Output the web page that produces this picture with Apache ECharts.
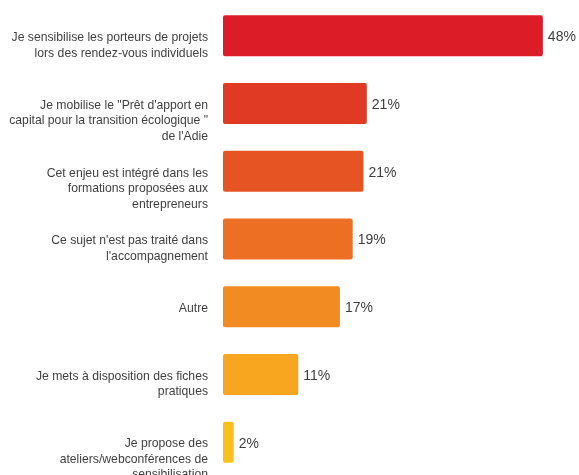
<!DOCTYPE html>
<html>
<head>
<meta charset="utf-8">
<script src="https://cdn.jsdelivr.net/npm/echarts@6/dist/echarts.min.js"></script>
<style>html,body{margin:0;padding:0;background:#fff;}#c{width:579px;height:475px;}</style>
</head>
<body>
<div id="c"></div>
<script>
const categories = [
  "Je sensibilise les porteurs de projets\nlors des rendez-vous individuels",
  "Je mobilise le \"Prêt d'apport en\ncapital pour la transition écologique \"\nde l'Adie",
  "Cet enjeu est intégré dans les\nformations proposées aux\nentrepreneurs",
  "Ce sujet n'est pas traité dans\nl'accompagnement",
  "Autre",
  "Je mets à disposition des fiches\npratiques",
  "Je propose des\nateliers/webconférences de\nsensibilisation"
];
const values = [47.6, 21.4, 20.9, 19.3, 17.4, 11.2, 1.6];
const colors = ["#DC1D27", "#E13A24", "#E75424", "#ED6F23", "#F28C22", "#F8A620", "#FCC01E"];

const chart = echarts.init(document.getElementById('c'));
chart.setOption({
  animation: false,
  grid: [
    {left: 223, right: 20, top: 2, height: 474, containLabel: false, outerBoundsMode: 'none'},
    {left: 223, right: 20, top: -3.8, height: 474, containLabel: false, outerBoundsMode: 'none'}
  ],
  xAxis: [
    {gridIndex: 0, type: 'value', min: 0, max: 50, show: false},
    {gridIndex: 1, type: 'value', min: 0, max: 50, show: false}
  ],
  yAxis: [
    {gridIndex: 0, type: 'category', data: categories, inverse: true, show: false},
    {gridIndex: 1, type: 'category', data: categories, inverse: true,
     axisLine: {show: false}, axisTick: {show: false}, splitLine: {show: false},
     axisLabel: {
       margin: 15, fontFamily: 'Liberation Sans', fontSize: 12.2, lineHeight: 15.5,
       color: '#3f3f3f', align: 'right', verticalAlign: 'top', interval: 0,
       hideOverlap: false
     }}
  ],
  series: [{
    type: 'bar', xAxisIndex: 0, yAxisIndex: 0,
    data: values.map((v, i) => ({value: v, itemStyle: {color: colors[i]}})),
    barWidth: 41,
    itemStyle: {borderRadius: 2},
    label: {
      show: true, position: 'right', distance: 5, offset: [0, 1.5],
      fontFamily: 'Liberation Sans', fontSize: 14, color: '#3f3f3f',
      formatter: p => Math.round(p.value) + '%'
    }
  }]
});
</script>
</body>
</html>
